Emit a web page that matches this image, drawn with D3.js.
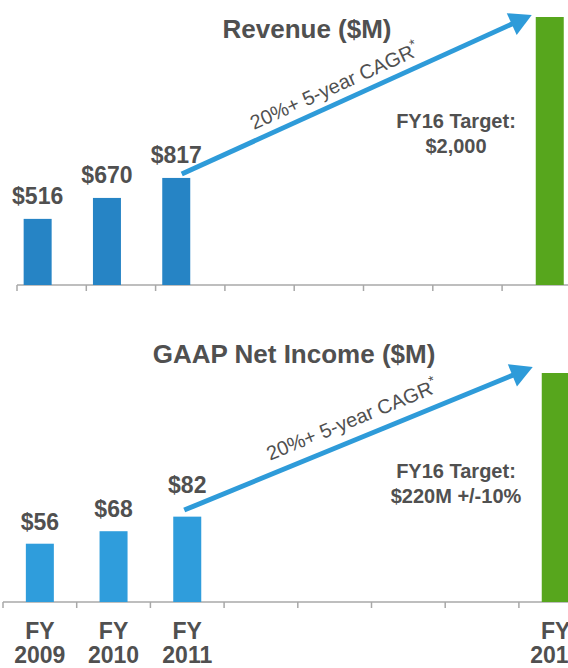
<!DOCTYPE html>
<html>
<head>
<meta charset="utf-8">
<script src="https://cdn.jsdelivr.net/npm/d3@7"></script>
<style>
  body { margin: 0; background: #fff; }
  text { font-family: "Liberation Sans", Arial, sans-serif; }
</style>
</head>
<body>
<svg id="chart" width="568" height="668"></svg>
<script>
// fiscal year slots along the x axis (only some have bars)
var slots = ["2009", "2010", "2011", "2012", "2013", "2014", "2015", "2016"];
var barYears = ["2009", "2010", "2011", "2016"];
var axisYears = ["2009", "2010", "2011", "2016"];

var revenue = [516, 670, 817, 2000];
var netIncome = [56, 68, 82, 220];

var revenueTarget = ["FY16 Target:", "$2,000"];
var incomeTarget = ["FY16 Target:", "$220M +/-10%"];
var cagrText = "20%+ 5-year CAGR";

var textColor = "#505050";
var greenColor = "#57a61d";
var arrowColor = "#2e9bd9";

var svg = d3.select("#chart");

// layout for each of the two panels
var panels = [
    {
        title: "Revenue ($M)", titleX: 307, titleY: 38,
        values: revenue, target: revenueTarget,
        xRange: [17, 571.4], base: 285, top: 17, yDomain: [30, 2000],
        barShift: [-14, -14, -14, 13], labelGap: [15, 15, 15],
        barColor: "#2684c5",
        arrowFrom: [5.5, -4], arrowTo: [-4, -2], textAlong: 84, textOff: 10,
        targetY: 128
    },
    {
        title: "GAAP Net Income ($M)", titleX: 294, titleY: 363,
        values: netIncome, target: incomeTarget,
        xRange: [3, 592.6], base: 602, top: 373, yDomain: [0, 220],
        barShift: [0, 0, 0, 0], labelGap: [14, 14, 24],
        barColor: "#2f9ddc",
        arrowFrom: [-3, -6.6], arrowTo: [-9, -6], textAlong: 98, textOff: 13,
        targetY: 478
    }
];

var barW = 28;

panels.forEach(function (p, pi) {
    var x = d3.scaleBand().domain(slots).range(p.xRange);
    var y = d3.scaleLinear().domain(p.yDomain).range([p.base, p.top]);
    var g = svg.append("g");

    var bars = barYears.map(function (yr, i) {
        var cx = x(yr) + x.bandwidth() / 2 + p.barShift[i];
        return { year: yr, value: p.values[i], cx: cx, last: i == barYears.length - 1 };
    });

    // axis line + ticks at band edges
    g.append("line")
        .attr("x1", p.xRange[0]).attr("x2", 568)
        .attr("y1", p.base).attr("y2", p.base)
        .attr("stroke", "#a8a8a8").attr("stroke-width", 1.5);
    g.selectAll(".tick").data(slots).enter().append("line")
        .attr("x1", (d) => x(d)).attr("x2", (d) => x(d))
        .attr("y1", p.base).attr("y2", p.base + 6)
        .attr("stroke", "#a8a8a8").attr("stroke-width", 1.5);

    // bars
    g.selectAll(".bar").data(bars).enter().append("rect")
        .attr("x", (d) => d.cx - barW / 2)
        .attr("y", (d) => y(d.value))
        .attr("width", barW)
        .attr("height", (d) => p.base - y(d.value))
        .attr("fill", (d) => d.last ? greenColor : p.barColor);

    // value labels on the historical bars
    g.selectAll(".val").data(bars.slice(0, 3)).enter().append("text")
        .attr("x", (d) => d.cx)
        .attr("y", (d, i) => y(d.value) - p.labelGap[i])
        .attr("text-anchor", "middle")
        .attr("font-size", 23).attr("font-weight", "bold")
        .attr("fill", textColor)
        .text((d) => "$" + d3.format(",")(d.value));

    // title
    g.append("text")
        .attr("x", p.titleX).attr("y", p.titleY)
        .attr("text-anchor", "middle")
        .attr("font-size", 26).attr("font-weight", "bold")
        .attr("fill", textColor)
        .text(p.title);

    // growth arrow from FY11 bar to the FY16 target bar
    var b3 = bars[2], b4 = bars[3];
    var sx = b3.cx + p.arrowFrom[0], sy = y(b3.value) + p.arrowFrom[1];
    var ex = b4.cx - barW / 2 + p.arrowTo[0], ey = y(b4.value) + p.arrowTo[1];
    var len = Math.hypot(ex - sx, ey - sy);
    var ux = (ex - sx) / len, uy = (ey - sy) / len;
    var headL = 22, headW = 12;
    var bx = ex - ux * headL, by = ey - uy * headL;
    g.append("line")
        .attr("x1", sx).attr("y1", sy)
        .attr("x2", bx + ux * 2).attr("y2", by + uy * 2)
        .attr("stroke", arrowColor).attr("stroke-width", 5);
    g.append("path")
        .attr("d", d3.line()([
            [ex, ey],
            [bx - uy * headW, by + ux * headW],
            [bx + uy * headW, by - ux * headW]
        ]) + "Z")
        .attr("fill", arrowColor);

    var angle = Math.atan2(ey - sy, ex - sx) * 180 / Math.PI;
    var tx = sx + ux * p.textAlong + uy * p.textOff;
    var ty = sy + uy * p.textAlong - ux * p.textOff;
    var cagr = g.append("text")
        .attr("transform", "translate(" + tx + "," + ty + ") rotate(" + angle + ")")
        .attr("font-size", 20)
        .attr("fill", textColor);
    cagr.append("tspan").text(cagrText);
    cagr.append("tspan").attr("dy", -8).attr("font-size", 14).text("*");

    // target annotation
    g.selectAll(".target").data(p.target).enter().append("text")
        .attr("x", 456)
        .attr("y", (d, i) => p.targetY + i * 25)
        .attr("text-anchor", "middle")
        .attr("font-size", 20).attr("font-weight", "bold")
        .attr("fill", textColor)
        .text((d) => d);

    // year labels below the lower chart
    if (pi == 1) {
        var lab = g.selectAll(".year").data(axisYears).enter().append("text")
            .attr("text-anchor", "middle")
            .attr("font-size", 23).attr("font-weight", "bold")
            .attr("fill", textColor);
        lab.append("tspan")
            .attr("x", (d) => x(d) + x.bandwidth() / 2).attr("y", 639)
            .text("FY");
        lab.append("tspan")
            .attr("x", (d) => x(d) + x.bandwidth() / 2).attr("y", 663)
            .text((d) => d);
    }
});
</script>
</body>
</html>
